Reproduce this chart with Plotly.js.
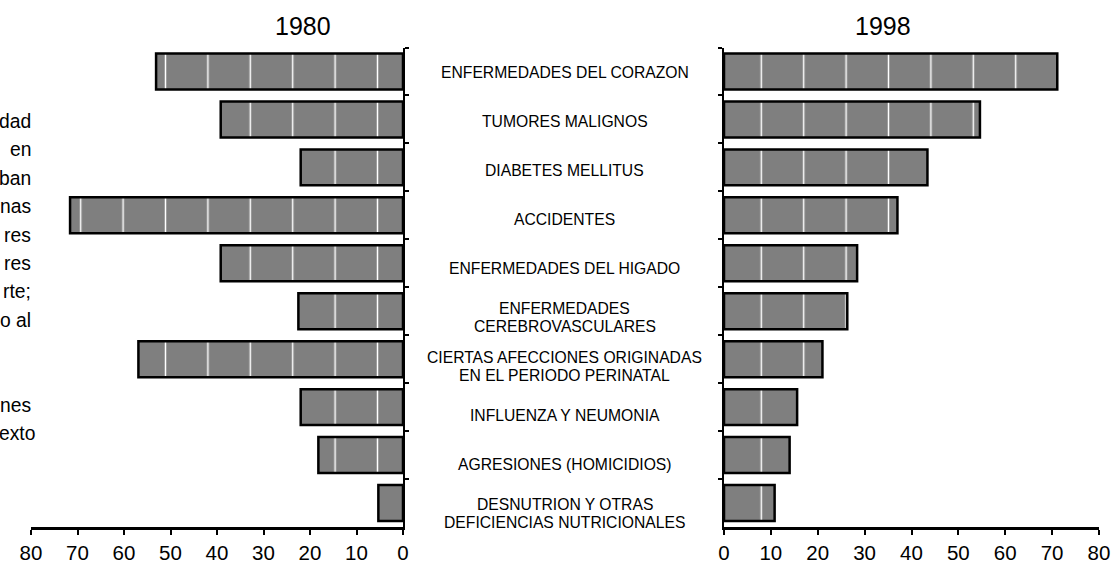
<!DOCTYPE html>
<html>
<head>
<meta charset="utf-8">
<script src="https://cdn.plot.ly/plotly-3.0.1.min.js"></script>
<style>
  html, body { margin: 0; padding: 0; background: #ffffff; }
  #chart { width: 1115px; height: 564px; }
</style>
</head>
<body>
<div id="chart"></div>
<script>
// ---------- DATA ----------
const categories = [
  "ENFERMEDADES DEL CORAZON",
  "TUMORES MALIGNOS",
  "DIABETES MELLITUS",
  "ACCIDENTES",
  "ENFERMEDADES DEL HIGADO",
  "ENFERMEDADES CEREBROVASCULARES",
  "CIERTAS AFECCIONES ORIGINADAS EN EL PERIODO PERINATAL",
  "INFLUENZA Y NEUMONIA",
  "AGRESIONES (HOMICIDIOS)",
  "DESNUTRION Y OTRAS DEFICIENCIAS NUTRICIONALES"
];
const categoryLabelLines = [
  ["ENFERMEDADES DEL CORAZON"],
  ["TUMORES MALIGNOS"],
  ["DIABETES MELLITUS"],
  ["ACCIDENTES"],
  ["ENFERMEDADES DEL HIGADO"],
  ["ENFERMEDADES", "CEREBROVASCULARES"],
  ["CIERTAS AFECCIONES ORIGINADAS", "EN EL PERIODO PERINATAL"],
  ["INFLUENZA Y NEUMONIA"],
  ["AGRESIONES (HOMICIDIOS)"],
  ["DESNUTRION Y OTRAS", "DEFICIENCIAS NUTRICIONALES"]
];
const values1980 = [53.1, 39.2, 22.0, 71.6, 39.2, 22.5, 56.9, 22.0, 18.2, 5.3];
const values1998 = [71.1, 54.6, 43.4, 37.0, 28.4, 26.3, 21.0, 15.6, 14.0, 10.8];
const xTickValues = [0, 10, 20, 30, 40, 50, 60, 70, 80];
const panelTitles = ["1980", "1998"];
const sideTextLines = ["dad", "en", "ban", "nas", "res", "res", "rte;", "o al", "", "", "nes", "exto"];

// ---------- STYLE ----------
const W = 1115, H = 564;
const FONT = "Liberation Sans, Arial, Helvetica, sans-serif";
const px = v => v / W;
const py = v => 1 - v / H;
const yDomain = [py(527), py(47.5)];
const BAR_GRAY = "#7f7f7f";
const SIDE_FONT_SIZE = 19.3;

function barMarker() {
  return {
    color: BAR_GRAY,
    line: { color: "#000000", width: 2.5 },
    pattern: { shape: "|", fgcolor: "#ffffff", bgcolor: BAR_GRAY, fillmode: "replace",
               size: 42.4, solidity: 0.035 }
  };
}

const traces = [
  { type: "bar", orientation: "h", x: values1980, y: categories, xaxis: "x", yaxis: "y",
    marker: barMarker(), hoverinfo: "x+y" },
  { type: "bar", orientation: "h", x: values1998, y: categories, xaxis: "x2", yaxis: "y2",
    marker: barMarker(), hoverinfo: "x+y" }
];

const xAxisBase = {
  tickvals: xTickValues, ticks: "outside", ticklen: 5, tickwidth: 2, tickcolor: "#000",
  showline: true, linecolor: "#000", linewidth: 2.5, showgrid: false, zeroline: false,
  tickfont: { family: FONT, size: 20.5, color: "#000" }, ticklabelstandoff: 1, fixedrange: true
};
const yAxisBase = {
  domain: yDomain, type: "category", categoryorder: "array", categoryarray: categories,
  autorange: "reversed", showline: true, linecolor: "#000", linewidth: 2,
  ticks: "outside", tickson: "boundaries", ticklen: 4, tickwidth: 2, tickcolor: "#000",
  showticklabels: false, showgrid: false, zeroline: false, fixedrange: true
};

const annotations = [];
// category labels (centered between the two panels)
categoryLabelLines.forEach((lines, i) => {
  const n = lines.length;
  lines.forEach((t, j) => {
    annotations.push({
      xref: "paper", yref: "y", x: px(564.5), y: categories[i],
      xanchor: "center", yanchor: "middle", showarrow: false,
      yshift: -(1 + 1.1 * i) - (j - (n - 1) / 2) * 18,
      text: t, font: { family: FONT, size: 15.7, color: "#000" }
    });
  });
});
// panel titles
const titleX = [302.5, 883.3];
panelTitles.forEach((t, k) => {
  annotations.push({
    xref: "paper", yref: "paper", x: px(titleX[k]), y: py(26),
    xanchor: "center", yanchor: "middle", showarrow: false,
    text: t, font: { family: FONT, size: 25, color: "#000" }
  });
});
// fragments of surrounding document text at the left edge (kept inside the page)
const measureCtx = document.createElement("canvas").getContext("2d");
measureCtx.font = SIDE_FONT_SIZE + "px 'Liberation Sans', Arial, sans-serif";
sideTextLines.forEach((t, k) => {
  if (!t) return;
  const w = measureCtx.measureText(t).width + 1;
  annotations.push({
    xref: "paper", yref: "paper", x: px(Math.max(33, w)), y: py(121.5 + 28.4 * k),
    xanchor: "right", yanchor: "middle", showarrow: false,
    text: t, font: { family: FONT, size: SIDE_FONT_SIZE, color: "#000" }
  });
});

const layout = {
  width: W, height: H,
  margin: { l: 0, r: 0, t: 0, b: 0 },
  paper_bgcolor: "#ffffff", plot_bgcolor: "rgba(0,0,0,0)",
  showlegend: false, bargap: 0.25,
  font: { family: FONT, color: "#000" },
  xaxis: Object.assign({}, xAxisBase, { domain: [px(31), px(403)], range: [80, 0], anchor: "y" }),
  xaxis2: Object.assign({}, xAxisBase, { domain: [px(724), px(1099)], range: [0, 80], anchor: "y2" }),
  yaxis: Object.assign({}, yAxisBase, { anchor: "x", side: "right" }),
  yaxis2: Object.assign({}, yAxisBase, { anchor: "x2", side: "left" }),
  annotations: annotations
};

// phase of the white stripe texture inside the bars (pure styling)
const stripePhase = { xy: 28.5, x2y2: 16.1 };

Plotly.newPlot("chart", traces, layout, { displayModeBar: false, staticPlot: true }).then(gd => {
  try {
    Object.keys(stripePhase).forEach(sp => {
      gd.querySelectorAll(".subplot." + sp + " .bars path").forEach(p => {
        const f = p.style.fill || p.getAttribute("fill") || "";
        const m = /#([^"')]+)/.exec(f);
        if (!m) return;
        const pat = document.getElementById(m[1]);
        if (pat) pat.setAttribute("patternTransform", "translate(" + stripePhase[sp] + ",0)");
      });
    });
  } catch (e) { /* styling only */ }
});
</script>
</body>
</html>
